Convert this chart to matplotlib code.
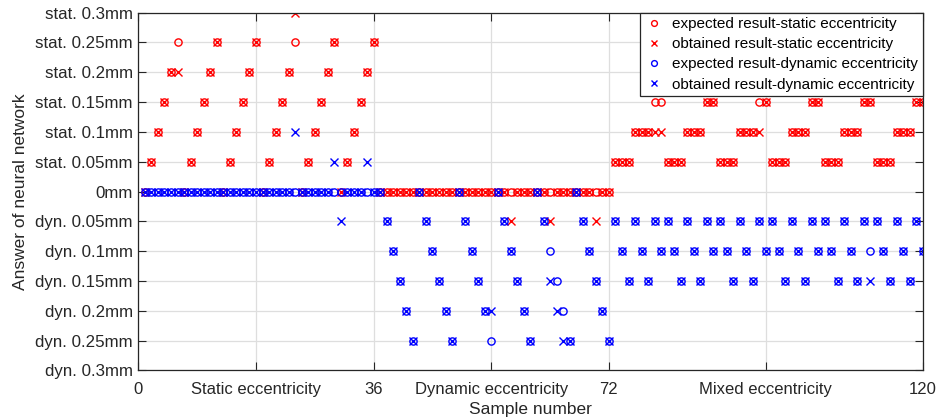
import numpy as np
import matplotlib
matplotlib.use('Agg')
import matplotlib.pyplot as plt

plt.rcParams['font.family'] = ['Liberation Sans', 'DejaVu Sans']

# expected / obtained answers in mm (static positive, dynamic negative)
static_expected = [
    # samples 1-36: static eccentricity
    0, .05, .1, .15, .2, .25, 0, .05, .1, .15, .2, .25,
    0, .05, .1, .15, .2, .25, 0, .05, .1, .15, .2, .25,
    0, .05, .1, .15, .2, .25, 0, .05, .1, .15, .2, .25,
    # samples 37-72: dynamic eccentricity
    0, 0, 0, 0, 0, 0, 0, 0, 0, 0, 0, 0,
    0, 0, 0, 0, 0, 0, 0, 0, 0, 0, 0, 0,
    0, 0, 0, 0, 0, 0, 0, 0, 0, 0, 0, 0,
    # samples 73-120: mixed eccentricity
    .05, .05, .05, .1, .1, .1, .15, .15,
    .05, .05, .05, .1, .1, .1, .15, .15,
    .05, .05, .05, .1, .1, .1, .15, .15,
    .05, .05, .05, .1, .1, .1, .15, .15,
    .05, .05, .05, .1, .1, .1, .15, .15,
    .05, .05, .05, .1, .1, .1, .15, .15,
]
static_obtained = [
    0, .05, .1, .15, .2, .2, 0, .05, .1, .15, .2, .25,
    0, .05, .1, .15, .2, .25, 0, .05, .1, .15, .2, .3,
    0, .05, .1, .15, .2, .25, 0, .05, .1, .15, .2, .25,
    0, 0, 0, 0, 0, 0, 0, 0, 0, 0, 0, 0,
    0, 0, 0, 0, 0, 0, 0, 0, -.05, 0, 0, 0,
    0, 0, -.05, 0, 0, 0, 0, 0, 0, -.05, 0, 0,
    .05, .05, .05, .1, .1, .1, .1, .1,
    .05, .05, .05, .1, .1, .1, .15, .15,
    .05, .05, .05, .1, .1, .1, .1, .15,
    .05, .05, .05, .1, .1, .1, .15, .15,
    .05, .05, .05, .1, .1, .1, .15, .15,
    .05, .05, .05, .1, .1, .1, .15, .15,
]
dynamic_expected = [
    0, 0, 0, 0, 0, 0, 0, 0, 0, 0, 0, 0,
    0, 0, 0, 0, 0, 0, 0, 0, 0, 0, 0, 0,
    0, 0, 0, 0, 0, 0, 0, 0, 0, 0, 0, 0,
    0, -.05, -.1, -.15, -.2, -.25, 0, -.05, -.1, -.15, -.2, -.25,
    0, -.05, -.1, -.15, -.2, -.25, 0, -.05, -.1, -.15, -.2, -.25,
    0, -.05, -.1, -.15, -.2, -.25, 0, -.05, -.1, -.15, -.2, -.25,
    -.05, -.1, -.15, -.05, -.1, -.15, -.05, -.1,
    -.05, -.1, -.15, -.05, -.1, -.15, -.05, -.1,
    -.05, -.1, -.15, -.05, -.1, -.15, -.05, -.1,
    -.05, -.1, -.15, -.05, -.1, -.15, -.05, -.1,
    -.05, -.1, -.15, -.05, -.1, -.15, -.05, -.1,
    -.05, -.1, -.15, -.05, -.1, -.15, -.05, -.1,
]
dynamic_obtained = [
    0, 0, 0, 0, 0, 0, 0, 0, 0, 0, 0, 0,
    0, 0, 0, 0, 0, 0, 0, 0, 0, 0, 0, .1,
    0, 0, 0, 0, 0, .05, -.05, 0, 0, 0, .05, 0,
    0, -.05, -.1, -.15, -.2, -.25, 0, -.05, -.1, -.15, -.2, -.25,
    0, -.05, -.1, -.15, -.2, -.2, 0, -.05, -.1, -.15, -.2, -.25,
    0, -.05, -.15, -.2, -.25, -.25, 0, -.05, -.1, -.15, -.2, -.25,
    -.05, -.1, -.15, -.05, -.1, -.15, -.05, -.1,
    -.05, -.1, -.15, -.05, -.1, -.15, -.05, -.1,
    -.05, -.1, -.15, -.05, -.1, -.15, -.05, -.1,
    -.05, -.1, -.15, -.05, -.1, -.15, -.05, -.1,
    -.05, -.1, -.15, -.05, -.1, -.15, -.05, -.15,
    -.05, -.1, -.15, -.05, -.1, -.15, -.05, -.1,
]

x_ticks = [0, 18, 36, 54, 72, 96, 120]
x_labels = ['0', 'Static eccentricity', '36', 'Dynamic eccentricity', '72',
            'Mixed eccentricity', '120']
y_ticks = [-.3, -.25, -.2, -.15, -.1, -.05, 0, .05, .1, .15, .2, .25, .3]
y_labels = ['dyn. 0.3mm', 'dyn. 0.25mm', 'dyn. 0.2mm', 'dyn. 0.15mm', 'dyn. 0.1mm',
            'dyn. 0.05mm', '0mm', 'stat. 0.05mm', 'stat. 0.1mm', 'stat. 0.15mm',
            'stat. 0.2mm', 'stat. 0.25mm', 'stat. 0.3mm']

samples = np.arange(1, len(static_expected) + 1)

fig = plt.figure(figsize=(9.41, 4.2), dpi=100)
ax = fig.add_axes([0.147, 0.118, 0.8335, 0.852])

ms = 5.2
ax.plot(samples, static_expected, 'o', color='red', mfc='none', ms=ms, mew=1.0,
        label='expected result-static eccentricity')
ax.plot(samples, static_obtained, 'x', color='red', ms=ms, mew=1.0,
        label='obtained result-static eccentricity')
ax.plot(samples, dynamic_expected, 'o', color='blue', mfc='none', ms=ms, mew=1.0,
        label='expected result-dynamic eccentricity')
ax.plot(samples, dynamic_obtained, 'x', color='blue', ms=ms, mew=1.0,
        label='obtained result-dynamic eccentricity')

ax.set_xlim(0, 120)
ax.set_ylim(-0.3, 0.3)
ax.set_xticks(x_ticks)
ax.set_xticklabels(x_labels, fontsize=12)
ax.set_yticks(y_ticks)
ax.set_yticklabels(y_labels, fontsize=12.2)
ax.tick_params(direction='in', length=6, width=0.8, top=True, right=True,
               colors='#262626', labelcolor='#262626')
ax.tick_params(axis='x', pad=8)
ax.tick_params(axis='y', pad=4)
ax.grid(True, color='#dedede', linewidth=0.9)
ax.set_axisbelow(True)
for s in ax.spines.values():
    s.set_color('#262626')
    s.set_linewidth(0.9)

ax.set_xlabel('Sample number', fontsize=12.5, color='#262626', labelpad=4)
ax.set_ylabel('Answer of neural network', fontsize=12.5, color='#262626', labelpad=5)

leg = ax.legend(loc='upper right', fontsize=11, borderaxespad=0, fancybox=False,
                framealpha=1, edgecolor='#262626', handlelength=1.2, handletextpad=0.6,
                labelspacing=0.4, borderpad=0.3, markerscale=0.8)
leg.get_frame().set_linewidth(0.9)

fig.savefig('out.png', dpi=100)
